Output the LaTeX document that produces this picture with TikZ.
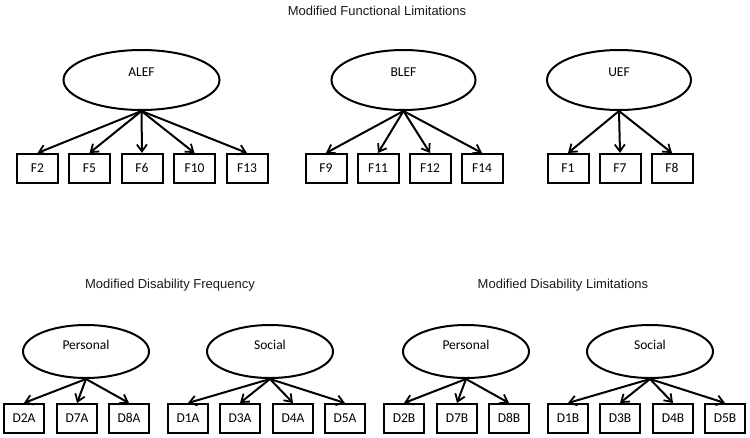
\documentclass[tikz,border=0pt]{standalone}
\usepackage{fontspec}
\newfontfamily\nodefont{Carlito}
\newfontfamily\titlefont{Liberation Sans}
\usetikzlibrary{shapes.geometric,arrows.meta}
\begin{document}
\begin{tikzpicture}[x=1pt,y=-1pt,
  latent/.style={draw,ellipse,line width=2pt,inner sep=0pt},
  topel/.style={latent,minimum width=144pt,minimum height=60pt},
  botel/.style={latent,minimum width=126pt,minimum height=53pt},
  ind/.style={draw,rectangle,line width=2pt,minimum width=40pt,minimum height=29pt,inner sep=0pt,text height=8.6pt,text depth=0pt,font=\nodefont\fontsize{13.5}{15}\selectfont},
  lbl/.style={font=\nodefont\fontsize{13.5}{15}\selectfont},
  ttl/.style={font=\titlefont\fontsize{13}{15}\selectfont,text=black!90},
  load/.style={line width=2pt,-{Straight Barb[length=7pt,width=10pt,line width=1.8pt]}}
]
\useasboundingbox (0,0) rectangle (750,437);

% Titles
\node[ttl] (t1) at (377,11) {Modified Functional Limitations};
\node[ttl] (t2) at (170,285) {Modified Disability Frequency};
\node[ttl] (t3) at (563,285) {Modified Disability Limitations};

% Top latent variables
\node[topel,minimum width=156pt,label={[lbl,yshift=8pt]center:ALEF}] (ALEF) at (141.5,80) {};
\node[topel,label={[lbl,yshift=8pt]center:BLEF}] (BLEF) at (403.5,80) {};
\node[topel,label={[lbl,yshift=8pt]center:UEF}] (UEF) at (619,80) {};

% Top indicators
\foreach \n/\x in {F2/37.5,F5/89.5,F6/142,F10/194.5,F13/247,F9/326,F11/378,F12/430,F14/482,F1/568,F7/620,F8/672}
  \node[ind,minimum width=41pt] (\n) at (\x,168.5) {\n};

\foreach \n in {F2,F5,F6,F10,F13} \draw[load] (ALEF.south) -- (\n.north);
\foreach \n in {F9,F11,F12,F14} \draw[load] (BLEF.south) -- (\n.north);
\foreach \n in {F1,F7,F8} \draw[load] (UEF.south) -- (\n.north);

% Bottom latent variables
\node[botel,label={[lbl,yshift=7pt]center:Personal}] (PA) at (86,351.5) {};
\node[botel,label={[lbl,yshift=7pt]center:Social}] (SA) at (270,351.5) {};
\node[botel,label={[lbl,yshift=7pt]center:Personal}] (PB) at (466,351.5) {};
\node[botel,label={[lbl,yshift=7pt]center:Social}] (SB) at (650,351.5) {};

% Bottom indicators
\foreach \n/\x in {D2A/24,D7A/77,D8A/129,D1A/188,D3A/240,D4A/293,D5A/345,
                   D2B/404,D7B/457,D8B/509,D1B/568,D3B/620,D4B/673,D5B/725}
  \node[ind] (\n) at (\x,418.5) {\n};

\foreach \n in {D2A,D7A,D8A} \draw[load] (PA.south) -- (\n.north);
\foreach \n in {D1A,D3A,D4A,D5A} \draw[load] (SA.south) -- (\n.north);
\foreach \n in {D2B,D7B,D8B} \draw[load] (PB.south) -- (\n.north);
\foreach \n in {D1B,D3B,D4B,D5B} \draw[load] (SB.south) -- (\n.north);
\end{tikzpicture}
\end{document}
